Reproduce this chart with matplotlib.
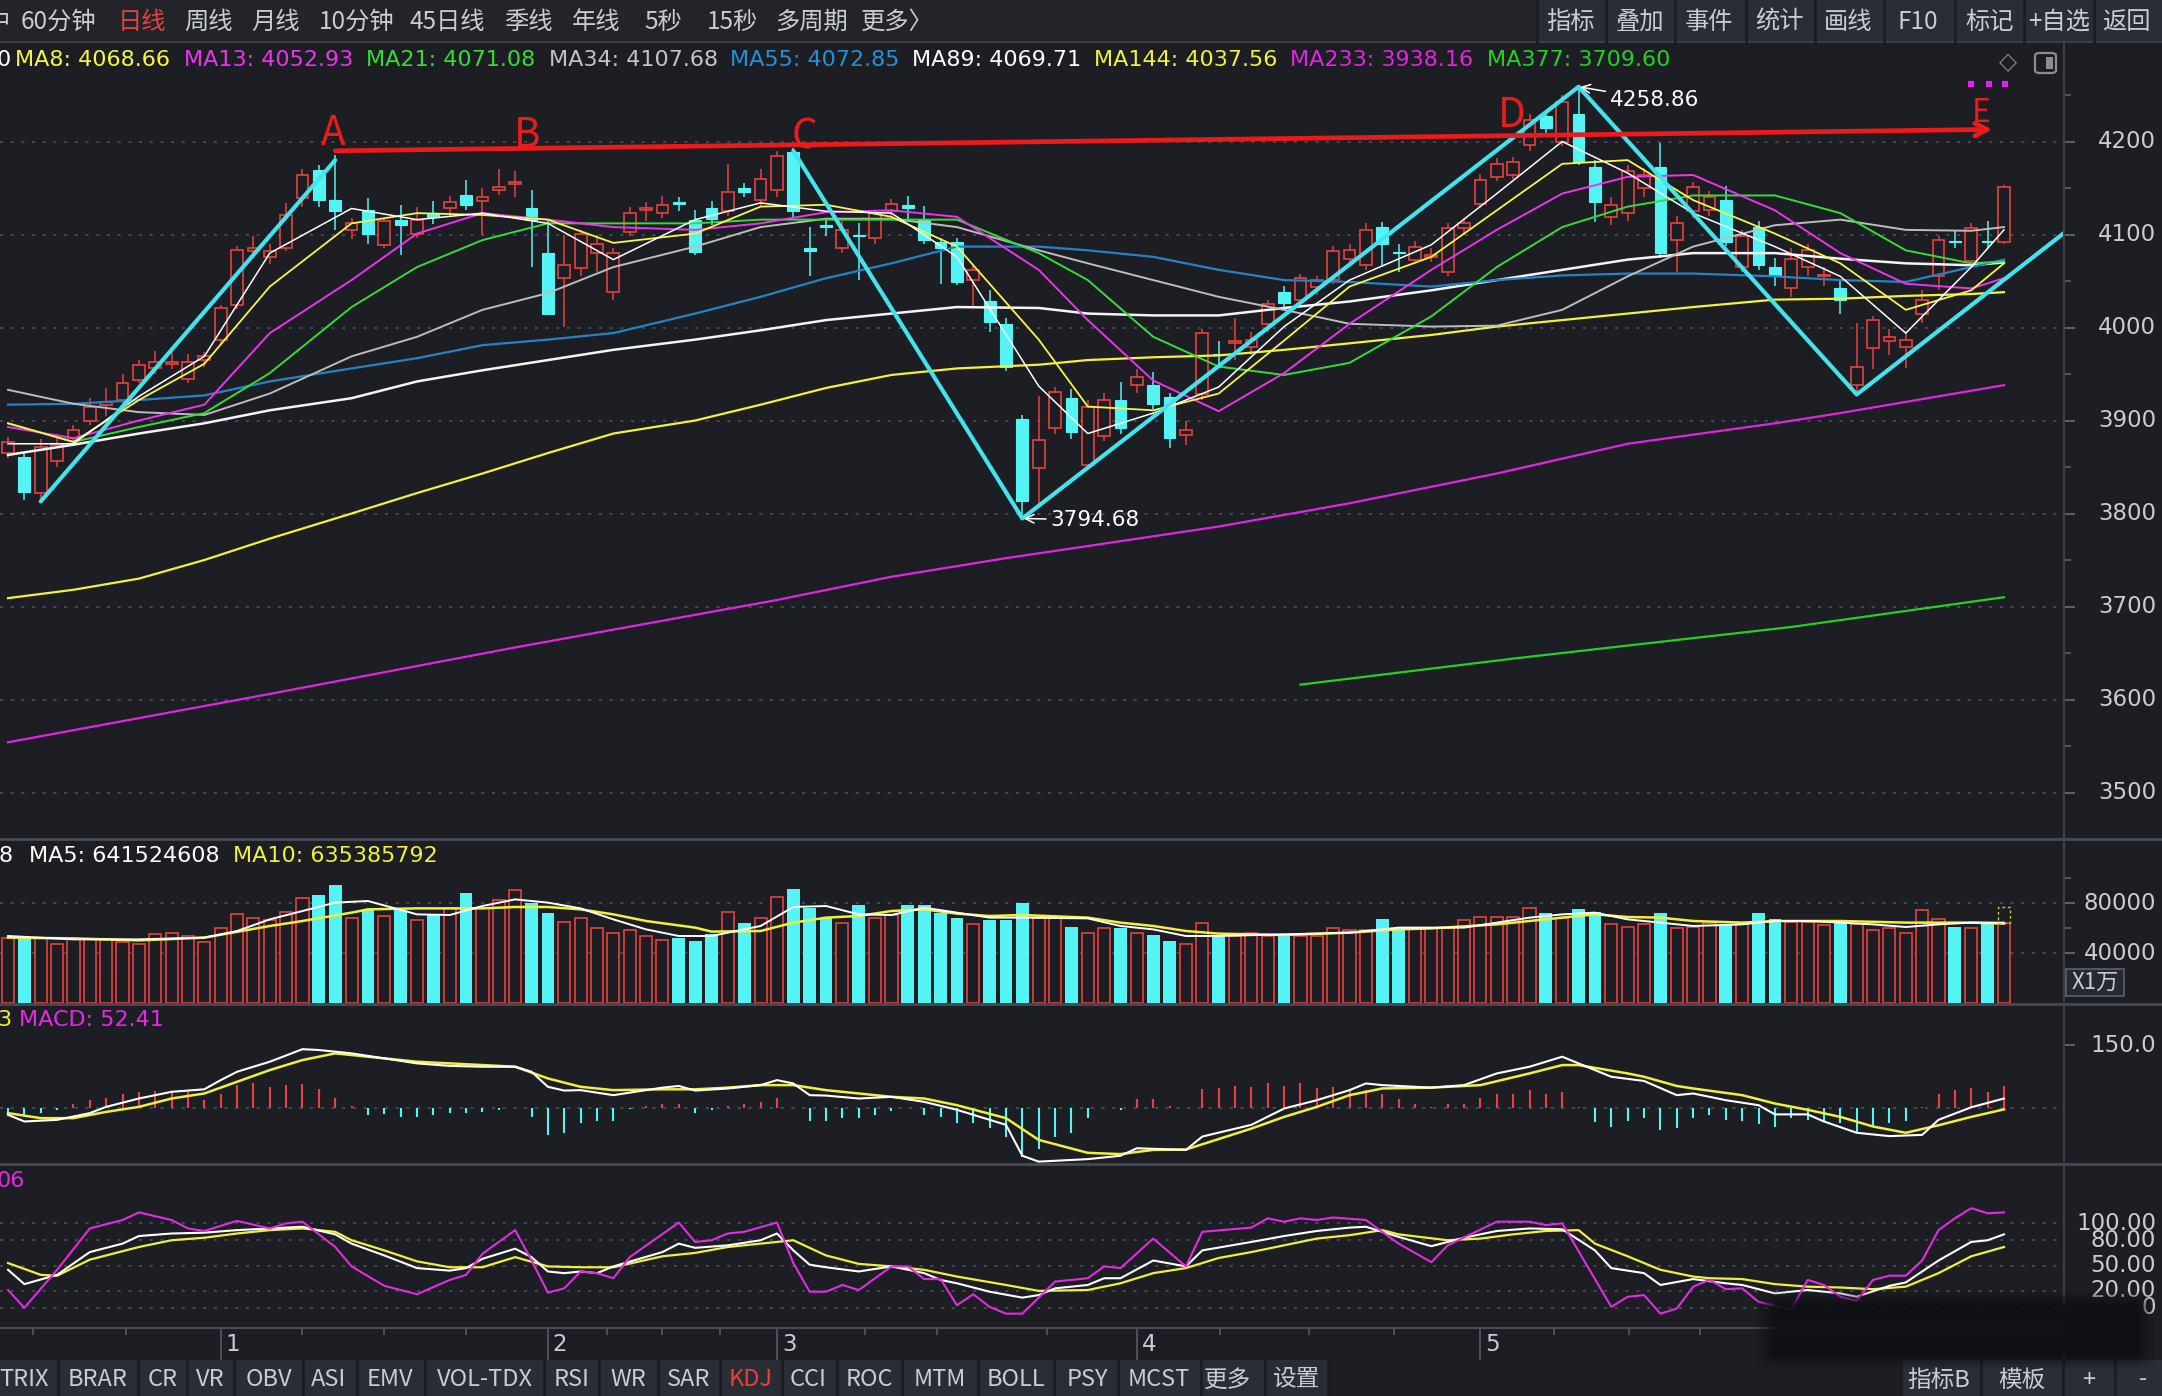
import numpy as np
import matplotlib
matplotlib.use('Agg')
import matplotlib.pyplot as plt
from matplotlib.patches import Rectangle, FancyBboxPatch
from matplotlib.lines import Line2D

plt.rcParams['font.family'] = ['Noto Sans CJK SC', 'DejaVu Sans']
LAT = ['DejaVu Sans', 'Noto Sans CJK SC']

W, H = 2162, 1396
BG = '#1c1e23'
GRID = '#50545e'
SEP = '#3d414a'
TXT = '#c9ccd1'
RED = '#e8413f'
CYAN = '#54f4f4'

# ---------------- daily candles (index 0..122) ----------------
opens = [3865, 3861, 3822, 3856, 3881, 3899, 3917, 3922, 3944, 3956,
         3961, 3945, 3965, 3987, 4024, 4082, 4076, 4085, 4139, 4169,
         4137, 4105, 4126, 4089, 4116, 4101, 4123, 4128, 4142, 4136,
         4148, 4154, 4128, 4080, 4053, 4064, 4080, 4038, 4103, 4126,
         4123, 4135, 4116, 4128, 4125, 4150, 4137, 4148, 4189, 4085,
         4110, 4085, 4100, 4096, 4125, 4132, 4116, 4092, 4092, 4051,
         4028, 4004, 3902, 3849, 3892, 3924, 3852, 3883, 3922, 3938,
         3938, 3925, 3884, 3929, 3972, 3983, 3979, 4004, 4038, 4030,
         4044, 4051, 4074, 4067, 4108, 4081, 4073, 4076, 4060, 4107,
         4133, 4162, 4164, 4196, 4227, 4200, 4230, 4173, 4119, 4123,
         4150, 4173, 4094, 4125, 4126, 4137, 4065, 4108, 4065, 4042,
         4065, 4055, 4042, 3938, 3978, 3985, 3979, 4015, 4055, 4093,
         4072, 4093, 4092]
closes = [3877, 3823, 3872, 3874, 3890, 3915, 3920, 3940, 3960, 3963,
          3963, 3963, 3969, 4021, 4083, 4085, 4082, 4121, 4164, 4137,
          4125, 4112, 4101, 4114, 4110, 4116, 4119, 4135, 4132, 4140,
          4151, 4157, 4116, 4015, 4067, 4101, 4090, 4080, 4123, 4128,
          4132, 4133, 4081, 4117, 4146, 4146, 4160, 4184, 4125, 4082,
          4108, 4105, 4098, 4123, 4133, 4128, 4094, 4085, 4049, 4062,
          4006, 3958, 3813, 3879, 3931, 3888, 3915, 3922, 3892, 3947,
          3918, 3881, 3890, 3994, 3970, 3985, 3987, 4025, 4026, 4053,
          4051, 4082, 4083, 4105, 4090, 4080, 4087, 4078, 4107, 4112,
          4159, 4176, 4178, 4223, 4214, 4243, 4178, 4135, 4132, 4168,
          4164, 4080, 4112, 4151, 4140, 4092, 4098, 4067, 4056, 4074,
          4083, 4057, 4030, 3958, 4008, 3990, 3987, 4030, 4094, 4092,
          4107, 4092, 4151]
highs = [3882, 3865, 3880, 3885, 3895, 3924, 3935, 3950, 3965, 3975,
         3975, 3972, 3974, 4024, 4088, 4098, 4090, 4134, 4170, 4175,
         4186, 4118, 4139, 4118, 4132, 4130, 4136, 4141, 4159, 4150,
         4170, 4168, 4148, 4114, 4100, 4105, 4100, 4085, 4130, 4135,
         4141, 4140, 4126, 4136, 4176, 4155, 4170, 4190, 4193, 4108,
         4118, 4115, 4112, 4126, 4138, 4141, 4131, 4096, 4096, 4066,
         4040, 4010, 3906, 3926, 3936, 3934, 3922, 3930, 3941, 3955,
         3952, 3930, 3900, 3998, 3985, 4010, 3995, 4030, 4045, 4058,
         4055, 4088, 4090, 4112, 4113, 4090, 4093, 4085, 4112, 4118,
         4165, 4182, 4183, 4230, 4232, 4250, 4258.86, 4180, 4140, 4175,
         4172, 4198, 4120, 4157, 4147, 4152, 4105, 4115, 4075, 4085,
         4090, 4065, 4050, 4005, 4012, 3998, 3995, 4040, 4098, 4105,
         4112, 4115, 4153]
lows = [3860, 3814, 3815, 3850, 3875, 3895, 3905, 3918, 3940, 3950,
        3955, 3940, 3958, 3982, 4020, 4075, 4068, 4082, 4130, 4130,
        4105, 4095, 4090, 4086, 4078, 4096, 4111, 4120, 4126, 4100,
        4143, 4140, 4065, 4013, 4001, 4055, 4060, 4030, 4098, 4115,
        4118, 4125, 4078, 4110, 4120, 4140, 4130, 4140, 4118, 4055,
        4098, 4080, 4051, 4090, 4120, 4116, 4090, 4047, 4046, 4022,
        3995, 3953, 3794.68, 3809, 3885, 3880, 3848, 3878, 3885, 3930,
        3912, 3870, 3874, 3922, 3960, 3965, 3970, 3995, 4020, 4025,
        4035, 4047, 4070, 4062, 4065, 4060, 4068, 4070, 4055, 4100,
        4128, 4158, 4160, 4190, 4205, 4195, 4175, 4113, 4110, 4115,
        4140, 4075, 4060, 4118, 4120, 4088, 4060, 4062, 4045, 4033,
        4055, 4045, 4015, 3928, 3955, 3970, 3957, 4005, 4040, 4085,
        4066, 4085, 4090]
# volume in units of 1万
vols = [51700, 52300, 51900, 47500, 50900, 50900, 50900, 48800, 47500, 55000,
        56300, 53600, 49000, 59700, 70900, 67700, 66400, 73000, 83700, 86400,
        94400, 68300, 74900, 69600, 74100, 66400, 70100, 75700, 88300, 75700,
        82100, 90100, 80300, 72300, 64800, 67700, 59700, 56300, 58100, 53600,
        50100, 52300, 49600, 55000, 73000, 64300, 67700, 84800, 90900, 75700,
        68300, 64300, 78500, 67700, 70400, 78500, 78500, 72300, 67700, 62900,
        66100, 66100, 80300, 68300, 68300, 60800, 56300, 59700, 59700, 56300,
        54400, 49600, 47000, 64300, 53600, 53600, 56300, 53600, 55000, 53600,
        53600, 59700, 58100, 58100, 66900, 58900, 59700, 59700, 60300, 66100,
        69100, 69100, 69100, 75700, 71700, 68000, 74900, 73000, 62900, 60800,
        62900, 71700, 60300, 60800, 64300, 62900, 64300, 71700, 66900, 65100,
        65100, 62400, 64300, 62900, 58100, 59700, 56300, 74100, 67500, 60800,
        60300, 64300, 64300]
macd_hist = [-9.6, -17.5, -13.5, -5.5, 8.9, 18.4, 24, 32.8, 38.4, 40.7,
             34.4, 38.4, 18.4, 32, 54, 58, 48.7, 54, 56.7, 44,
             24, 4, -17.5, -16, -21.5, -21.5, -17.5, -12, -12, -9.6,
             -5.5, -1, -21.5, -65, -60, -36, -31, -31, -4, 4,
             8, 8, -12, -5.5, 4, 8, 14.4, 24, -1, -31,
             -31, -25.5, -25.5, -17.5, -8, -1, -17.5, -21.5, -36, -36,
             -49.5, -69, -117, -100, -69, -60, -25.5, -1, -5.5, 20,
             20, 4, -1, 44, 46, 52, 48.7, 58, 52, 58,
             46, 50, 40.7, 42, 32.8, 20, 8.9, 1, 8.9, 8.9,
             22.4, 32.8, 32.8, 42, 32.8, 38.4, 1, -33.5, -45, -31,
             -25.5, -53, -49.5, -25.5, -17.5, -29.4, -31, -39, -45, -25.5,
             -29.4, -31, -36, -57, -44, -37, -31, 1, 32.8, 42,
             46, 38.4, 52.4]

# ---------------- moving averages ----------------
ma_idx = [0, 4, 8, 12, 16, 21, 25, 29, 33, 37, 42, 46, 50, 54, 58, 63,
          66, 70, 74, 78, 82, 87, 91, 95, 99, 103, 108, 112, 116, 120, 122]
ma5 = [3875, 3875, 3926, 3969, 4080, 4128, 4116, 4123, 4112, 4073, 4116, 4134, 4125, 4123, 4076, 3937,
       3886, 3908, 3936, 4001, 4051, 4089, 4144, 4200, 4166, 4123, 4087, 4055, 3994, 4065, 4105]
ma8 = [3897, 3877, 3922, 3961, 4044, 4112, 4123, 4121, 4116, 4091, 4101, 4130, 4132, 4119, 4087, 3987,
       3915, 3911, 3929, 3986, 4044, 4076, 4126, 4176, 4180, 4137, 4101, 4069, 4019, 4040, 4069]
ma13 = [3893, 3881, 3900, 3917, 3994, 4051, 4101, 4123, 4116, 4108, 4105, 4112, 4124, 4126, 4119, 4062,
        4008, 3943, 3910, 3951, 4004, 4062, 4105, 4144, 4162, 4164, 4126, 4080, 4047, 4042, 4053]
ma21 = [3897, 3877, 3893, 3908, 3951, 4022, 4065, 4094, 4112, 4112, 4112, 4116, 4116, 4116, 4116, 4080,
        4051, 3990, 3958, 3949, 3962, 4012, 4065, 4108, 4130, 4142, 4142, 4123, 4083, 4069, 4071]
ma34 = [3933, 3918, 3909, 3906, 3929, 3969, 3990, 4019, 4037, 4065, 4087, 4108, 4117, 4117, 4108, 4083,
        4069, 4051, 4033, 4019, 4004, 4001, 4002, 4019, 4055, 4087, 4110, 4116, 4105, 4104, 4108]
ma55 = [3917, 3918, 3922, 3927, 3942, 3956, 3967, 3981, 3987, 3994, 4015, 4033, 4053, 4069, 4087, 4087,
        4083, 4076, 4062, 4051, 4049, 4044, 4051, 4056, 4058, 4058, 4055, 4051, 4049, 4065, 4073]
ma89 = [3863, 3874, 3886, 3897, 3911, 3924, 3942, 3954, 3965, 3976, 3987, 3997, 4008, 4015, 4022, 4021,
        4015, 4013, 4013, 4021, 4028, 4040, 4051, 4062, 4073, 4080, 4080, 4074, 4069, 4067, 4070]
ma144 = [3709, 3718, 3730, 3750, 3773, 3800, 3822, 3843, 3865, 3886, 3900, 3917, 3935, 3949, 3956, 3960,
         3965, 3968, 3970, 3976, 3983, 3992, 4001, 4008, 4015, 4022, 4030, 4031, 4034, 4036, 4038]
ma233_idx = [0, 16, 31, 47, 54, 61, 66, 74, 82, 91, 99, 108, 112, 116, 122]
ma233 = [3554, 3606, 3656, 3707, 3732, 3752, 3765, 3786, 3811, 3843, 3875, 3897, 3908, 3920, 3938]
ma377_idx = [79, 92, 100, 109, 122]
ma377 = [3616, 3644, 3660, 3678, 3710]

vma5_idx = [0, 4, 8, 12, 14, 16, 18, 20, 22, 25, 27, 29, 31, 33, 35, 37, 39, 41, 43, 46, 48, 50, 52, 54, 56,
            58, 60, 62, 66, 68, 70, 72, 74, 78, 82, 85, 87, 89, 93, 95, 97, 99, 101, 103, 106, 108, 110,
            112, 114, 116, 118, 120, 122]
vma5 = [53600, 50900, 50900, 52300, 57600, 66900, 73600, 80300, 81600, 70900, 70400, 77600, 82900,
        80300, 75700, 66900, 58900, 53600, 53600, 61600, 76800, 77600, 70900, 70400, 76300, 72300,
        68300, 68300, 67700, 61600, 58900, 53600, 53600, 54900, 56300, 60300, 60300, 60300, 68300,
        70900, 72300, 66900, 64300, 61600, 62900, 65600, 65600, 64300, 62900, 60800, 62900, 64300, 64300]
vma10_idx = [0, 4, 8, 12, 16, 18, 21, 22, 25, 27, 29, 31, 33, 35, 37, 39, 42, 43, 46, 48, 50, 52, 54, 56,
             58, 60, 62, 66, 68, 70, 72, 74, 78, 82, 85, 87, 91, 93, 95, 97, 99, 101, 103, 106, 108, 112,
             116, 120, 122]
vma10 = [52300, 51700, 50100, 52300, 61600, 65600, 72300, 74900, 75700, 75700, 75700, 76800, 76800,
         74900, 70900, 65600, 60300, 57100, 57600, 64300, 68300, 69600, 73600, 74900, 71500, 69600,
         70400, 68300, 64300, 61600, 57600, 55500, 54400, 56300, 58900, 59700, 62900, 65600, 68300,
         70900, 68800, 68300, 65600, 64300, 65600, 65600, 64300, 64300, 63500]

dif_idx = [0, 1, 3, 5, 6, 8, 10, 12, 13, 14, 16, 18, 19, 21, 23, 25, 27, 29, 31, 32, 33, 34, 35, 37, 40,
           41, 42, 44, 46, 47, 48, 49, 50, 52, 54, 56, 58, 61, 62, 63, 66, 68, 69, 72, 73, 76, 78, 80,
           82, 83, 84, 87, 89, 91, 93, 95, 96, 98, 100, 102, 103, 105, 107, 108, 110, 111, 113, 115,
           117, 118, 120, 122]
dif = [-17, -33, -29, -13, 2, 22, 38, 44, 66, 86, 110, 140, 138, 130, 118, 106, 100, 98, 98, 86,
       50, 41, 42, 30, 48, 52, 41, 46, 54, 66, 58, 30, 29, 22, 26, 14, -5, -41, -115, -129,
       -123, -115, -97, -101, -69, -41, -2, 18, 42, 58, 54, 48, 54, 82, 98, 122, 106, 74, 64, 30,
       34, 18, 6, -16, -16, -33, -60, -68, -65, -29, 1, 22]
dea_idx = [0, 2, 4, 6, 8, 10, 12, 14, 16, 18, 20, 23, 25, 27, 29, 31, 33, 35, 37, 40, 42, 44, 46, 48, 50,
           52, 54, 56, 58, 61, 63, 66, 68, 70, 72, 76, 78, 80, 82, 84, 87, 90, 93, 95, 96, 99, 100, 102,
           103, 106, 108, 110, 112, 114, 116, 118, 120, 122]
dea = [-13, -25, -25, -10, 2, 22, 34, 62, 90, 114, 130, 118, 110, 106, 102, 98, 70, 50, 42, 44,
       44, 48, 54, 54, 42, 34, 26, 22, 6, -25, -77, -108, -111, -101, -100, -50, -22, 2, 30, 46,
       48, 54, 82, 102, 102, 82, 74, 52, 46, 30, 10, -5, -22, -45, -60, -42, -22, -4]

k_idx = [0, 1, 3, 5, 7, 8, 10, 12, 14, 16, 18, 20, 21, 23, 25, 27, 28, 29, 31, 32, 33, 34, 35, 36, 37,
         40, 41, 42, 44, 46, 47, 48, 49, 50, 52, 54, 56, 57, 58, 60, 62, 63, 64, 66, 67, 68, 70, 72,
         73, 76, 78, 80, 82, 83, 85, 87, 89, 91, 93, 95, 97, 98, 100, 101, 103, 105, 106, 108, 110,
         112, 113, 115, 116, 118, 120, 121, 122]
k_val = [45, 28, 39, 66, 76, 85, 88, 89, 92, 94, 96, 87, 76, 62, 47, 44, 47, 58, 70, 60, 43, 41, 43, 41, 49,
         66, 76, 71, 74, 80, 88, 68, 51, 48, 43, 49, 41, 33, 29, 19, 12, 15, 23, 27, 35, 35, 56, 49,
         68, 78, 85, 91, 95, 96, 84, 73, 83, 91, 94, 93, 68, 47, 41, 27, 34, 29, 27, 17, 21,
         17, 13, 26, 30, 56, 78, 80, 87]
d_idx = [0, 2, 3, 5, 8, 10, 12, 14, 16, 18, 20, 21, 23, 25, 27, 29, 31, 33, 35, 37, 40, 42, 44, 46, 48,
         50, 52, 54, 56, 58, 61, 63, 66, 68, 70, 72, 74, 76, 78, 80, 82, 84, 85, 88, 90, 92, 94, 96,
         97, 99, 101, 103, 104, 106, 108, 110, 112, 114, 116, 118, 120, 122]
d_val = [53, 39, 38, 57, 72, 80, 83, 88, 92, 94, 90, 80, 68, 55, 48, 48, 60, 49, 48, 48, 61, 65, 72, 76, 80,
         62, 52, 49, 45, 37, 27, 20, 21, 29, 41, 47, 59, 66, 74, 82, 86, 92, 87, 80, 82, 87, 91, 92,
         76, 61, 45, 37, 35, 34, 28, 25, 24, 22, 25, 41, 61, 72]
j_idx = [0, 1, 3, 5, 7, 8, 10, 11, 12, 14, 16, 17, 18, 20, 21, 23, 25, 27, 28, 29, 31, 32, 33, 34, 35,
         36, 37, 38, 41, 42, 43, 44, 45, 47, 48, 49, 50, 51, 52, 54, 55, 56, 57, 58, 59, 60, 61, 62,
         64, 66, 67, 68, 70, 72, 73, 76, 77, 78, 79, 80, 81, 83, 85, 87, 88, 91, 93, 94, 95, 98, 99,
         100, 101, 102, 103, 104, 105, 106, 107, 109, 110, 111, 112, 113, 114, 115, 116, 117, 118,
         119, 120, 121, 122]
j_val = [21, 0, 45, 94, 104, 113, 104, 94, 91, 103, 94, 100, 102, 72, 49, 26, 16, 33, 39, 64, 92, 56, 18,
         23, 43, 41, 35, 60, 101, 78, 80, 88, 90, 101, 53, 19, 19, 27, 21, 49, 49, 34, 34, 3, 16, 1,
         -7, -7, 31, 35, 49, 47, 82, 49, 90, 95, 106, 102, 106, 104, 107, 104, 76, 54, 74, 102, 102,
         98, 100, 1, 13, 15, -7, -1, 25, 33, 22, 23, 7, -2, 33, 27, 13, 8, 33, 38, 38, 56, 92, 106,
         118, 112, 113]

# wave drawing (cyan zigzag) and the red resistance line
zz1_idx, zz1_val = [2, 20], [3813, 4180]
zz2_idx, zz2_val = [48, 62, 96, 113, 125.7], [4190, 3794.68, 4258.86, 3928, 4102]
res_idx, res_val = [20, 121.3], [4190, 4213]

month_ticks = [13, 33, 47, 69, 90]
month_labels = ['1', '2', '3', '4', '5']
week_ticks = [1.5, 7.2, 18, 23, 28, 36.6, 40, 43.5, 52.4, 56.8, 63.5, 74.1, 79.5, 84.7, 94.5, 99.1, 103.4]

n = len(closes)
for name, arr in [('opens', opens), ('highs', highs), ('lows', lows), ('vols', vols), ('macd', macd_hist)]:
    if len(arr) != n:
        raise ValueError(name + ' length %d' % len(arr))
x = np.arange(n)
up = np.array(closes) > np.array(opens)

fig = plt.figure(figsize=(W / 100, H / 100), dpi=100)
fig.patch.set_facecolor(BG)


def fx(px):
    return px / W


def fy(py):
    return 1 - py / H


def ftext(px, py, s, **kw):
    kw.setdefault('va', 'center')
    fig.text(fx(px), fy(py), s, **kw)


def fline(x0, y0, x1, y1, color=SEP, lw=1.5):
    fig.add_artist(Line2D([fx(x0), fx(x1)], [fy(y0), fy(y1)], color=color, lw=lw))


def frect(x0, y0, x1, y1, fc, ec='none', lw=0, z=1):
    fig.add_artist(Rectangle((fx(x0), fy(y1)), (x1 - x0) / W, (y1 - y0) / H, fc=fc, ec=ec, lw=lw,
                             transform=fig.transFigure, zorder=z))


def panel(y0, y1, lo, hi):
    a = fig.add_axes([0, fy(y1), 2064 / W, (y1 - y0) / H])
    a.set_facecolor(BG)
    a.set_xlim(-0.49, 125.67)
    a.set_ylim(lo, hi)
    for s in a.spines.values():
        s.set_visible(False)
    a.set_xticks([])
    a.yaxis.tick_right()
    a.tick_params(axis='y', which='major', length=8, width=1.2, color='#6a6e77', labelright=False)
    a.tick_params(axis='y', which='minor', length=5, width=1.2, color='#5a5e67')
    return a


def rlabel(a, v, s, size=16.5):
    a.text(2156 / 2064, v, s, transform=a.get_yaxis_transform(), ha='right', va='center',
           color=TXT, fontsize=size, family=LAT)


def dotted(a, v):
    a.axhline(v, color=GRID, lw=1.1, ls=(0, (2, 5)), zorder=1)


# ---------------- price panel ----------------
ax = panel(42, 838, 3451.1, 4307.0)
levels = [3500, 3600, 3700, 3800, 3900, 4000, 4100, 4200]
ax.set_yticks(levels)
ax.set_yticks([v + 50 for v in levels], minor=True)
for v in levels:
    dotted(ax, v)
    rlabel(ax, v, str(v))

for i in range(n):
    o, c, h, l = opens[i], closes[i], highs[i], lows[i]
    if up[i]:
        ax.add_patch(Rectangle((i - 0.36, o), 0.72, c - o, fc=BG, ec=RED, lw=1.2, zorder=2))
        ax.vlines(i, c, h, color=RED, lw=1.1, zorder=2)
        ax.vlines(i, l, o, color=RED, lw=1.1, zorder=2)
    else:
        ax.vlines(i, l, h, color=CYAN, lw=1.1, zorder=2)
        ax.add_patch(Rectangle((i - 0.36, c), 0.72, max(o - c, 0.6), fc=CYAN, ec=CYAN, lw=0.8, zorder=2))

ax.plot(ma_idx, ma144, color='#f2f23a', lw=1.6, zorder=3)
ax.plot(ma233_idx, ma233, color='#e225e2', lw=1.6, zorder=3)
ax.plot(ma377_idx, ma377, color='#25d025', lw=1.6, zorder=3)
ax.plot(ma_idx, ma89, color='#f4f4f4', lw=1.8, zorder=3)
ax.plot(ma_idx, ma55, color='#2383c6', lw=1.6, zorder=3)
ax.plot(ma_idx, ma34, color='#bdbdbd', lw=1.4, zorder=3)
ax.plot(ma_idx, ma21, color='#36dc36', lw=1.4, zorder=3)
ax.plot(ma_idx, ma13, color='#ee33ee', lw=1.4, zorder=3)
ax.plot(ma_idx, ma8, color='#f6f645', lw=1.3, zorder=3)
ax.plot(ma_idx, ma5, color='#ffffff', lw=1.1, zorder=3)

ax.plot(zz1_idx, zz1_val, color='#43e3ee', lw=3.0, zorder=5, solid_capstyle='round')
ax.plot(zz2_idx, zz2_val, color='#43e3ee', lw=3.0, zorder=5, solid_capstyle='round')
ax.annotate('', xy=(res_idx[1], res_val[1]), xytext=(res_idx[0], res_val[0]),
            arrowprops=dict(arrowstyle='->, head_length=0.9, head_width=0.45', color='#ec1a1a',
                            lw=3.4, shrinkA=0, shrinkB=0), zorder=6)
for s, xi, yv, fs in [('A', 19.9, 4209, 29), ('B', 31.7, 4207, 29), ('C', 48.7, 4205, 29),
                      ('D', 91.9, 4228, 29), ('E', 120.6, 4231, 23)]:
    ax.text(xi, yv, s, color='#ea1c1c', fontsize=fs, ha='center', va='center', zorder=6)
ax.annotate('4258.86', xy=(96, 4258.86), xytext=(97.9, 4245), color='white', fontsize=15.5,
            ha='left', va='center', zorder=7, family=LAT,
            arrowprops=dict(arrowstyle='->', color='white', lw=1.1, shrinkA=1, shrinkB=1))
ax.annotate('3794.68', xy=(62, 3794.68), xytext=(63.7, 3793), color='white', fontsize=15.5,
            ha='left', va='center', zorder=7, family=LAT,
            arrowprops=dict(arrowstyle='->', color='white', lw=1.1, shrinkA=1, shrinkB=1))
for px in (1971, 1989, 2005):
    frect(px - 3, 81, px + 3, 87, '#ff10ff', z=4)

# ---------------- volume panel ----------------
av = panel(840, 1003, 0, 130400)
av.set_yticks([40000, 80000])
av.set_yticks([60000, 100000], minor=True)
for v in (40000, 80000):
    dotted(av, v)
    rlabel(av, v, str(v))
av.bar(x[up], np.array(vols)[up], width=0.74, facecolor=BG, edgecolor=RED, linewidth=1.2, zorder=2)
av.bar(x[~up], np.array(vols)[~up], width=0.78, color=CYAN, zorder=2)
av.plot(vma10_idx, vma10, color='#f0f03a', lw=1.8, zorder=3)
av.plot(vma5_idx, vma5, color='white', lw=1.4, zorder=3)
av.add_patch(Rectangle((n - 1 - 0.37, vols[-1]), 0.74, 12500, fc='none', ec='#c8c832', lw=1.0,
                       ls=(0, (2, 2)), zorder=3))

# ---------------- MACD panel ----------------
am = panel(1005, 1163, -132.3, 245.7)
am.set_yticks([150])
dotted(am, 0)
rlabel(am, 150, '150.0')
am.vlines(x, 0, macd_hist, colors=[RED if h > 0 else CYAN for h in macd_hist], lw=1.5, zorder=2)
am.plot(dea_idx, dea, color='#f0f03a', lw=1.8, zorder=3)
am.plot(dif_idx, dif, color='white', lw=1.5, zorder=3)

# ---------------- KDJ panel ----------------
ak = panel(1165, 1328, -24, 169.2)
ak.set_yticks([])
for v, s in [(100, '100.00'), (80, '80.00'), (50, '50.00'), (20, '20.00'), (0, '0')]:
    dotted(ak, v)
    rlabel(ak, v, s)
ak.plot(d_idx, d_val, color='#f0f03a', lw=1.6, zorder=3)
ak.plot(k_idx, k_val, color='white', lw=1.5, zorder=3)
ak.plot(j_idx, j_val, color='#e42ae4', lw=1.5, zorder=3)

# ---------------- date strip ----------------
at = panel(1328, 1360, 0, 1)
at.set_yticks([])
at.vlines(month_ticks, 0, 1, color='#565a63', lw=1.2)
at.vlines(week_ticks, 0.78, 1, color='#565a63', lw=1.2)
for m, s in zip(month_ticks, month_labels):
    at.text(m + 0.3, 0.48, s, color=TXT, fontsize=16.5, ha='left', va='center', family=LAT)

# ---------------- frame, separators ----------------
fline(0, 839, W, 839, '#474b55', 2)
fline(0, 1004, W, 1004, '#474b55', 2)
fline(0, 1164, W, 1164, '#474b55', 2)
fline(0, 1328, 2064, 1328, '#474b55', 1.5)
fline(2064, 42, 2064, 1360, '#3c4049', 1.5)

# top toolbar
frect(0, 0, W, 42, '#222429')
frect(1537, 0, W, 42, '#2a2d34')
fline(0, 42, W, 42, '#3a3e47', 1.5)
for sx in [1537, 1606, 1675, 1746, 1815, 1884, 1955, 2024, 2094]:
    fline(sx, 0, sx, 42, '#1b1d22', 2)
top_items = [('中', -14), ('60分钟', 21), ('日线', 118), ('周线', 184), ('月线', 251), ('10分钟', 319),
             ('45日线', 410), ('季线', 504), ('年线', 572), ('5秒', 644), ('15秒', 707),
             ('多周期', 775), ('更多〉', 861)]
for s, px in top_items:
    ftext(px, 22, s, color=('#e8403e' if s == '日线' else TXT), fontsize=17.5, ha='left')
for s, px in zip(['指标', '叠加', '事件', '统计', '画线', 'F10', '标记', '+自选', '返回'],
                 [1571, 1640, 1709, 1779, 1848, 1918, 1990, 2059, 2126]):
    ftext(px, 22, s, color=TXT, fontsize=17.5, ha='center')

# legend rows
legend = [('0', -4, 'white'), ('MA8: 4068.66', 15, '#f6f645'), ('MA13: 4052.93', 184, '#ee33ee'),
          ('MA21: 4071.08', 366, '#36dc36'), ('MA34: 4107.68', 549, '#c4c4c4'),
          ('MA55: 4072.85', 730, '#2590d6'), ('MA89: 4069.71', 912, 'white'),
          ('MA144: 4037.56', 1094, '#f2f23a'), ('MA233: 3938.16', 1290, '#e225e2'),
          ('MA377: 3709.60', 1487, '#25d025')]
for s, px, c in legend:
    ftext(px, 60, s, color=c, fontsize=16, ha='left', family=LAT)
ftext(2008, 62, '◇', color='#7d8088', fontsize=17, ha='center', family=['DejaVu Sans'])
fig.add_artist(FancyBboxPatch((fx(2035), fy(73)), 21 / W, 20 / H, boxstyle='round,pad=0,rounding_size=0.002',
                              fc='none', ec='#8a8d94', lw=1.6, transform=fig.transFigure, zorder=4))
frect(2046, 57, 2053, 69, '#8a8d94', z=4)

ftext(-2, 856, '8', color='white', fontsize=16, ha='left', family=LAT)
ftext(29, 856, 'MA5: 641524608', color='white', fontsize=16, ha='left', family=LAT)
ftext(233, 856, 'MA10: 635385792', color='#f0f03a', fontsize=16, ha='left', family=LAT)
ftext(-3, 1020, '3', color='#f0f03a', fontsize=16, ha='left', family=LAT)
ftext(19, 1020, 'MACD: 52.41', color='#e42ae4', fontsize=16, ha='left', family=LAT)
ftext(-4, 1181, '06', color='#e42ae4', fontsize=16, ha='left', family=LAT)

fig.add_artist(FancyBboxPatch((fx(2066), fy(996)), 58 / W, 27 / H, boxstyle='square,pad=0',
                              fc='#262930', ec='#5d616b', lw=1.2, transform=fig.transFigure, zorder=4))
ftext(2095, 982, 'X1万', color=TXT, fontsize=16, ha='center', zorder=6)

# bottom toolbar
frect(0, 1360, W, H, '#2a2d34')
for sx in [58, 138, 187, 234, 303, 357, 425, 544, 599, 658, 720, 782, 837, 902, 978, 1054, 1118,
           1201, 1265, 1328, 1901, 1981, 2063, 2115]:
    fline(sx, 1360, sx, H, '#1b1d22', 2)
frect(1328, 1360, 1901, H, BG, z=1)
bottom_items = [('TRIX', 24), ('BRAR', 98), ('CR', 163), ('VR', 210), ('OBV', 269), ('ASI', 329),
                ('EMV', 390), ('VOL-TDX', 485), ('RSI', 572), ('WR', 628), ('SAR', 689), ('KDJ', 751),
                ('CCI', 808), ('ROC', 869), ('MTM', 940), ('BOLL', 1016), ('PSY', 1087), ('MCST', 1159),
                ('更多', 1228), ('设置', 1297), ('指标B', 1939), ('模板', 2022), ('+', 2089), ('-', 2143)]
for s, px in bottom_items:
    ftext(px, 1380, s, color=('#e8403e' if s == 'KDJ' else TXT), fontsize=17, ha='center')

# blurred watermark patch (bottom right)
wm = fig.add_axes([fx(1755), fy(1370), 400 / W, 80 / H], zorder=8)
wm.axis('off')
gx = np.linspace(0, 1, 400)
gy = np.linspace(0, 1, 80)
ex = np.clip(np.minimum(gx, 1 - gx) / 0.05, 0, 1)
ey = np.clip(np.minimum(gy, 1 - gy) / 0.2, 0, 1)
alpha = np.outer(ey, ex) * 0.92
rgba = np.zeros((80, 400, 4))
rgba[..., 0] = 14 / 255
rgba[..., 1] = 15 / 255
rgba[..., 2] = 18 / 255
rgba[..., 3] = alpha
wm.imshow(rgba, aspect='auto', extent=[0, 1, 0, 1], interpolation='bilinear')

fig.savefig('out.png', dpi=100, facecolor=BG)
